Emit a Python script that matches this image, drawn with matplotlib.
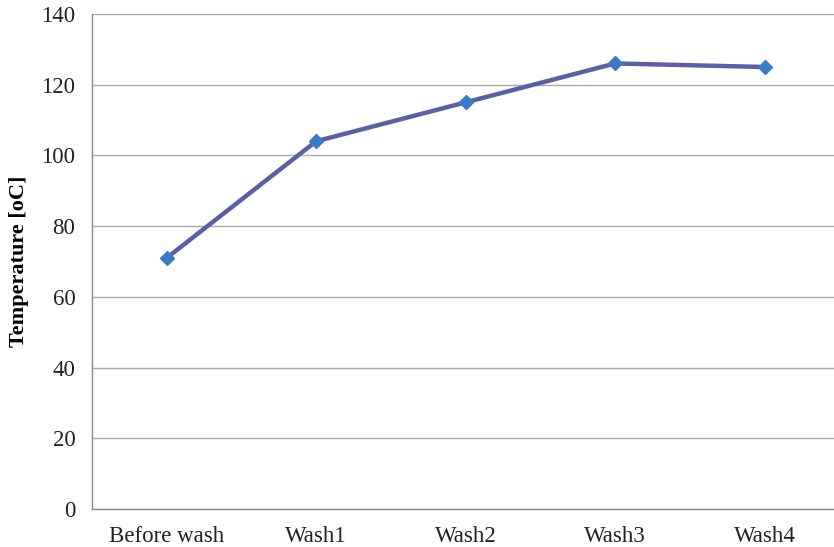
import matplotlib
matplotlib.use("Agg")
import matplotlib.pyplot as plt

stages = ["Before wash", "Wash1", "Wash2", "Wash3", "Wash4"]
temperature = [71, 104, 115, 126, 125]
y_ticks = [0, 20, 40, 60, 80, 100, 120, 140]

plt.rcParams["font.family"] = ["Liberation Serif", "DejaVu Serif"]

fig = plt.figure(figsize=(8.34, 5.47), dpi=100)
ax = fig.add_axes([0.1103, 0.0695, 0.896, 0.905])

x = list(range(len(stages)))
ax.plot(x, temperature, color="#5B60A5", linewidth=3.2, zorder=3,
        marker="D", markersize=7, markerfacecolor="#3A7BC8",
        markeredgecolor="#3A7BC8")

ax.set_xlim(-0.5, len(stages) - 0.5)
ax.set_ylim(0, 140)
ax.set_yticks(y_ticks)
ax.set_xticks(x)
ax.set_xticklabels(stages)
ax.tick_params(axis="both", length=0, labelsize=16.5, colors="#222222")
ax.tick_params(axis="y", pad=12)
ax.tick_params(axis="x", pad=12)
ax.grid(axis="y", color="#AAAAAA", linewidth=1)
ax.set_axisbelow(True)

for s in ["top", "right"]:
    ax.spines[s].set_visible(False)
for s in ["left", "bottom"]:
    ax.spines[s].set_color("#888888")
    ax.spines[s].set_linewidth(1)

ax.set_ylabel("Temperature [oC]", fontsize=16, fontweight="bold", labelpad=9)

fig.savefig("out.png", dpi=100)
